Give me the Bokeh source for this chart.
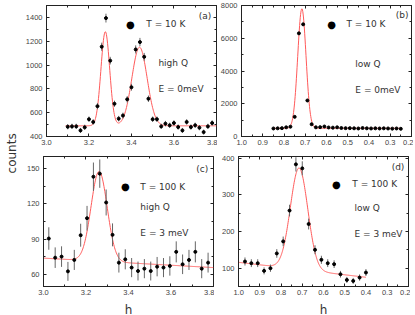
import numpy as np
from bokeh.plotting import figure
from bokeh.layouts import row, column
from bokeh.models import (Range1d, LinearAxis, SingleIntervalTicker, Label, ColumnDataSource,
                          CustomLabelingPolicy, NumeralTickFormatter)
from bokeh.embed import file_html
from bokeh.resources import INLINE

# ---------------- data ----------------
# (a) T = 10 K, high Q, E = 0 meV
a_h = [3.10, 3.12, 3.14, 3.16, 3.18, 3.20, 3.22, 3.24, 3.26, 3.28, 3.30, 3.32, 3.34, 3.36,
       3.38, 3.40, 3.42, 3.44, 3.46, 3.48, 3.50, 3.52, 3.54, 3.56, 3.58, 3.60, 3.62, 3.64,
       3.66, 3.68, 3.70, 3.72, 3.74, 3.76, 3.78]
a_counts = [482, 485, 485, 451, 477, 545, 522, 655, 1154, 1394, 1037, 675, 550, 576,
            712, 814, 1131, 1193, 1069, 717, 545, 545, 485, 508, 494, 513, 479, 451,
            522, 479, 494, 474, 437, 485, 513]
a_err = [22, 22, 22, 21, 22, 23, 23, 26, 34, 37, 32, 26, 23, 24, 27, 29, 34, 35, 33, 27,
         23, 23, 22, 23, 22, 23, 22, 21, 23, 22, 22, 22, 21, 22, 23]
a_bg = 490
a_peaks = [(3.277, 790, 0.0205), (3.438, 660, 0.036)]   # centre, height, sigma
a_fit_span = (3.09, 3.80)

# (b) T = 10 K, low Q, E = 0 meV
b_h = [0.85, 0.83, 0.81, 0.79, 0.77, 0.75, 0.73, 0.71, 0.69, 0.67, 0.65, 0.63, 0.61, 0.59,
       0.57, 0.55, 0.53, 0.51, 0.49, 0.47, 0.45, 0.43, 0.41, 0.39, 0.37, 0.35, 0.33, 0.31,
       0.29, 0.27, 0.25]
b_counts = [490, 500, 510, 560, 600, 1200, 6300, 6850, 2200, 750, 560, 570, 610, 550,
            540, 560, 520, 510, 510, 500, 490, 520, 500, 490, 500, 490, 500, 490, 480, 490, 470]
b_err = [22, 22, 23, 24, 25, 35, 79, 83, 47, 27, 24, 24, 25, 23, 23, 24, 23, 23, 23, 22,
         22, 23, 22, 22, 22, 22, 22, 22, 22, 22, 22]
b_bg = 500
b_peak = (0.716, 7300, 0.0195)
b_fit_span = (0.85, 0.25)

# (c) T = 100 K, high Q, E = 3 meV
c_h = [3.025, 3.055, 3.085, 3.115, 3.145, 3.175, 3.205, 3.235, 3.265, 3.295, 3.325, 3.355,
       3.385, 3.415, 3.445, 3.475, 3.505, 3.535, 3.565, 3.595, 3.625, 3.655, 3.685, 3.715,
       3.745, 3.775]
c_counts = [90.6, 74.4, 75.3, 62.8, 72.5, 93.4, 107.8, 142.9, 145.5, 121.1, 93.7, 70.2,
            73.0, 66.0, 63.1, 65.1, 63.1, 66.8, 66.0, 67.4, 79.3, 68.8, 72.5, 79.3, 65.1, 70.2]
c_err = [9.5, 8.7, 8.7, 8.0, 8.5, 9.7, 10.4, 12.0, 12.0, 11.0, 9.7, 8.4, 8.5, 8.1, 8.0,
         8.1, 8.0, 8.2, 8.1, 8.2, 8.9, 8.3, 8.5, 8.9, 8.1, 8.4]
c_bg_ends = (74.0, 66.0)     # background at h = 3.0 and h = 3.8
c_peak = (3.262, 76, 0.038)
c_fit_span = (3.0, 3.8)

# (d) T = 100 K, low Q, E = 3 meV
d_h = [0.97, 0.94, 0.91, 0.88, 0.85, 0.82, 0.79, 0.76, 0.73, 0.70, 0.67, 0.64, 0.61, 0.58,
       0.55, 0.52, 0.49, 0.46, 0.43, 0.40]
d_counts = [118.3, 113.7, 113.7, 92.7, 100.0, 140.3, 173.2, 257.3, 383.5, 372.6, 220.7,
            150.3, 122.9, 113.7, 111.0, 83.5, 68.0, 65.3, 74.4, 88.1]
d_err = [11, 10.7, 10.7, 9.6, 10, 11.8, 13.2, 16, 19.6, 19.3, 14.9, 12.3, 11.1, 10.7,
         10.5, 9.1, 8.2, 8.1, 8.6, 9.4]
d_bg_ends = (116.0, 75.2)    # background at h = 1.0 and h = 0.4
d_peak = (0.715, 277, 0.041)
d_fit_span = (1.0, 0.4)

# ---------------- styling ----------------
TICK_FONT = "Liberation Sans"
TEXT_FONT = "DejaVu Sans"
FIT_COLOR = "#ff5a5a"
FRAME_COLOR = "#222222"
TEXT_COLOR = "#333333"


def gauss(x, c, a, s):
    return a * np.exp(-0.5 * ((x - c) / s) ** 2)


def style_axis(ax, ticker, labels=True, standoff=3, fmt=None):
    ax.ticker = ticker
    ax.major_tick_in = 3
    ax.major_tick_out = 0
    ax.minor_tick_in = 2
    ax.minor_tick_out = 0
    ax.axis_line_color = FRAME_COLOR
    ax.major_tick_line_color = FRAME_COLOR
    ax.minor_tick_line_color = FRAME_COLOR
    if labels:
        ax.major_label_text_font = TICK_FONT
        ax.major_label_text_font_size = "7.5px"
        ax.major_label_text_color = "#444444"
        ax.major_label_standoff = standoff
        if fmt:
            ax.formatter = NumeralTickFormatter(format=fmt)
    else:
        # mirror axis: ticks only, no labels
        ax.major_label_text_font_size = "0px"
        ax.major_label_standoff = 0
        ax.major_label_policy = CustomLabelingPolicy(
            code="for (const i of indices) { indices.unset(i) }\nreturn indices")
        ax.axis_line_color = None


def make_panel(xr, yr, xint, yint, h, cnt, err, fit_x, fit_y, texts,
               fw, fh, bl, br, bt, bb, xlabel=None):
    p = figure(frame_width=fw, frame_height=fh,
               x_range=Range1d(*xr), y_range=Range1d(*yr),
               output_backend="svg", toolbar_location=None,
               min_border_left=bl, min_border_right=br,
               min_border_top=bt, min_border_bottom=bb)
    p.xgrid.visible = False
    p.ygrid.visible = False
    p.outline_line_color = FRAME_COLOR
    p.outline_line_width = 1
    p.background_fill_color = "white"
    p.border_fill_color = "white"

    style_axis(p.xaxis[0], SingleIntervalTicker(interval=xint, num_minor_ticks=2),
               standoff=3, fmt="0.0")
    style_axis(p.yaxis[0], SingleIntervalTicker(interval=yint, num_minor_ticks=2), standoff=4)
    if xlabel:
        p.xaxis[0].axis_label = xlabel
        p.xaxis[0].axis_label_text_font = TEXT_FONT
        p.xaxis[0].axis_label_text_font_size = "12px"
        p.xaxis[0].axis_label_text_font_style = "normal"
        p.xaxis[0].axis_label_text_color = TEXT_COLOR
        p.xaxis[0].axis_label_standoff = 5

    top = LinearAxis()
    style_axis(top, SingleIntervalTicker(interval=xint, num_minor_ticks=2), labels=False)
    p.add_layout(top, "above")
    right = LinearAxis()
    style_axis(right, SingleIntervalTicker(interval=yint, num_minor_ticks=2), labels=False)
    p.add_layout(right, "right")

    src = ColumnDataSource(dict(h=h, c=cnt,
                                lo=[v - e for v, e in zip(cnt, err)],
                                hi=[v + e for v, e in zip(cnt, err)]))
    p.line(fit_x, fit_y, line_color=FIT_COLOR, line_width=1)
    p.segment(x0="h", y0="lo", x1="h", y1="hi", source=src, line_color="#666666", line_width=1)
    p.scatter("h", "c", source=src, marker="circle", size=3, color="black")

    for (tx, ty, txt, align, size) in texts:
        p.add_layout(Label(x=tx, y=ty, text=txt, text_font=TEXT_FONT, text_font_size=size,
                           text_color=TEXT_COLOR if txt != "\u25cf" else "black",
                           text_align=align, text_baseline="middle"))
    return p


# fit curves (evaluated from the fit parameters)
ax_fit = np.linspace(*a_fit_span, 400)
ay_fit = a_bg + sum(gauss(ax_fit, *pk) for pk in a_peaks)
bx_fit = np.linspace(*b_fit_span, 400)
by_fit = b_bg + gauss(bx_fit, *b_peak)
cx_fit = np.linspace(*c_fit_span, 400)
cy_fit = c_bg_ends[0] + (c_bg_ends[1] - c_bg_ends[0]) * (cx_fit - 3.0) / 0.8 + gauss(cx_fit, *c_peak)
dx_fit = np.linspace(*d_fit_span, 400)
dy_fit = d_bg_ends[0] + (d_bg_ends[1] - d_bg_ends[0]) * (1.0 - dx_fit) / 0.6 + gauss(dx_fit, *d_peak)

DOT = "\u25cf"
pa = make_panel((3.0, 3.8005), (400, 1500), 0.2, 200, a_h, a_counts, a_err, ax_fit, ay_fit,
                [(3.776, 1416, "(a)", "right", "9px"),
                 (3.395, 1341, DOT, "center", "10px"),
                 (3.47, 1341, "T = 10 K", "left", "9px"),
                 (3.527, 1013, "high Q", "left", "9px"),
                 (3.527, 795, "E = 0meV", "left", "9px")],
                170, 131, 21, 1, 5, 19)
pb = make_panel((1.0005, 0.1995), (0, 8000), 0.1, 2000, b_h, b_counts, b_err, bx_fit, by_fit,
                [(0.214, 7390, "(b)", "right", "9px"),
                 (0.576, 6840, DOT, "center", "10px"),
                 (0.506, 6840, "T = 10 K", "left", "9px"),
                 (0.464, 4458, "low Q", "left", "9px"),
                 (0.464, 2870, "E = 0meV", "left", "9px")],
                170, 131, 24, 2, 5, 19)
pc = make_panel((3.0, 3.8005), (50, 160), 0.2, 30, c_h, c_counts, c_err, cx_fit, cy_fit,
                [(3.776, 149.7, "(c)", "right", "9px"),
                 (3.386, 134.6, DOT, "center", "10px"),
                 (3.456, 134.6, "T = 100 K", "left", "9px"),
                 (3.456, 116.9, "high Q", "left", "9px"),
                 (3.456, 95.1, "E = 3 meV", "left", "9px")],
                170, 130, 21, 1, 1, 28, xlabel="h")
pd = make_panel((1.0005, 0.1995), (50, 405), 0.1, 100, d_h, d_counts, d_err, dx_fit, dy_fit,
                [(0.219, 375, "(d)", "right", "9px"),
                 (0.539, 328.7, DOT, "center", "10px"),
                 (0.464, 328.7, "T = 100 K", "left", "9px"),
                 (0.454, 265.5, "low Q", "left", "9px"),
                 (0.454, 194, "E = 3 meV", "left", "9px")],
                170, 130, 24, 2, 1, 28, xlabel="h")

# shared y label
lab = figure(width=22, height=314, x_range=Range1d(0, 1), y_range=Range1d(0, 1),
             output_backend="svg", toolbar_location=None,
             x_axis_location=None, y_axis_location=None,
             min_border=0)
lab.outline_line_color = None
lab.xgrid.visible = False
lab.ygrid.visible = False
lab.add_layout(Label(x=0.5, y=0.513, text="counts", angle=np.pi / 2, text_align="center",
                     text_baseline="middle", text_font=TEXT_FONT, text_font_size="12px",
                     text_color=TEXT_COLOR))

layout = row(lab, column(row(pa, pb), row(pc, pd)))
open("out.html", "w").write(file_html(layout, INLINE))
